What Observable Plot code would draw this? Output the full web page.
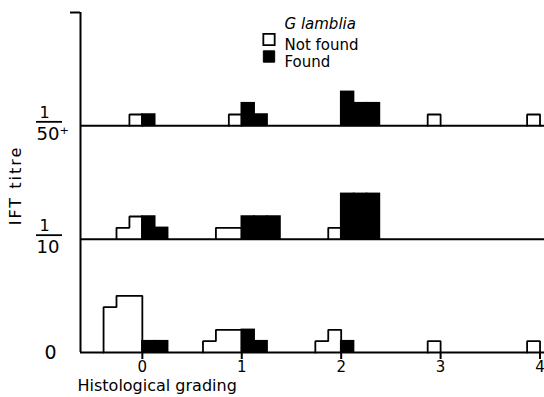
<!DOCTYPE html>
<html><head><meta charset="utf-8">
<script src="https://cdn.jsdelivr.net/npm/d3@7"></script>
<script src="https://cdn.jsdelivr.net/npm/@observablehq/plot@0.6"></script>
<style>body{margin:0;background:#fff} svg{display:block}</style>
</head><body><div id="chart"></div>
<script>
// Histological grading (x) and IFT titre rows (y)
const grades = [0, 1, 2, 3, 4];
const titreLabels = ["0", "1/10", "1/50+"];
const rowBase = [0, 10, 20];
// counts per column, per grade (not found = open, to the left; found = solid, to the right)
const notFound_0  = [[4, 5, 5], [1, 2, 2], [1, 2], [1], [1]];
const found_0     = [[1, 1], [2, 1], [1], [], []];
const notFound_10 = [[1, 2], [1, 1], [1], [], []];
const found_10    = [[2, 1], [2, 2, 2], [4, 4, 4], [], []];
const notFound_50 = [[1], [1], [], [1], [1]];
const found_50    = [[1], [2, 1], [3, 2, 2], [], []];
const legendLabels = ["Not found", "Found"];

const colW = 0.13;
const xMin = -0.622, xMax = 4.045;
const W = 544, H = 397, mL = 80, mT = 12, mB = 45;
const px2x = p => xMin + (p - mL) * (xMax - xMin) / (W - mL);
const px2y = p => (H - mB - p) * 30 / (H - mB - mT);

const rects = [], outline = [];
function addRow(r, nf, f) {
  const base = rowBase[r];
  grades.forEach((g, gi) => {
    const c = nf[gi];
    if (c.length) {
      const id = r + "-" + g;
      const x0 = g - c.length * colW;
      outline.push({id, x: x0, y: base});
      c.forEach((v, i) => {
        outline.push({id, x: x0 + i * colW, y: base + v});
        outline.push({id, x: x0 + (i + 1) * colW, y: base + v});
      });
      outline.push({id, x: g, y: base});
    }
    f[gi].forEach((v, i) => rects.push({x1: g + i * colW, x2: g + (i + 1) * colW, y1: base, y2: base + v}));
  });
}
addRow(0, notFound_0, found_0);
addRow(1, notFound_10, found_10);
addRow(2, notFound_50, found_50);

const fracs = [{y: rowBase[1], num: "1", den: "10"}, {y: rowBase[2], num: "1", den: "50\u207A"}];

const chart = Plot.plot({
  width: W, height: H,
  marginLeft: mL, marginRight: 0, marginTop: mT, marginBottom: mB,
  x: {domain: [xMin, xMax]},
  y: {domain: [0, 30], axis: null},
  style: {fontFamily: "DejaVu Sans", background: "white", color: "black"},
  marks: [
    Plot.ruleY(rowBase, {x1: xMin, x2: xMax, strokeWidth: 2}),
    Plot.ruleX([xMin], {y1: 0, y2: 30, strokeWidth: 2}),
    Plot.ruleY([30], {x1: px2x(70), x2: xMin, strokeWidth: 2}),
    Plot.rect(rects, {x1: "x1", x2: "x2", y1: "y1", y2: "y2", fill: "black", stroke: "black", strokeWidth: 1.5, strokeLinejoin: "miter"}),
    Plot.line(outline, {x: "x", y: "y", z: "id", stroke: "black", strokeWidth: 1.8, strokeLinejoin: "miter"}),
    Plot.axisX({ticks: grades, tickSize: 7, tickPadding: 2, fontSize: 15, label: null, tickFormat: d => String(d), strokeWidth: 2}),
    Plot.text(["Histological grading"], {frameAnchor: "bottom-left", dx: -3, dy: 38, textAnchor: "start", fontSize: 16}),
    // y labels
    Plot.text([titreLabels[0]], {y: rowBase[0], frameAnchor: "left", dx: -30, textAnchor: "middle", fontSize: 19}),
    Plot.text(fracs, {y: "y", text: "num", frameAnchor: "left", dx: -36, dy: -13, textAnchor: "middle", fontSize: 16}),
    Plot.text(fracs, {y: "y", text: "den", frameAnchor: "left", dx: -44, dy: 8, textAnchor: "start", fontSize: 18}),
    Plot.ruleY(fracs, {y: "y", x1: px2x(36), x2: px2x(62), dy: -4, strokeWidth: 1.8}),
    Plot.text(["IFT titre"], {frameAnchor: "left", dx: -65, dy: 3, rotate: -90, fontSize: 16, textAnchor: "middle"}),
    // legend
    Plot.text(["G lamblia"], {frameAnchor: "top-left", dx: 284 - mL, dy: 18 - mT, textAnchor: "start", fontSize: 15, fontStyle: "italic"}),
    Plot.dot([0], {x: () => px2x(268.5), y: () => px2y(39), symbol: "square", r: 6.4, fill: "white", stroke: "black", strokeWidth: 1.8}),
    Plot.dot([0], {x: () => px2x(268.5), y: () => px2y(56), symbol: "square", r: 6.4, fill: "black", stroke: "black", strokeWidth: 1}),
    Plot.text([legendLabels[0]], {frameAnchor: "top-left", dx: 284 - mL, dy: 39 - mT, textAnchor: "start", fontSize: 15}),
    Plot.text([legendLabels[1]], {frameAnchor: "top-left", dx: 284 - mL, dy: 56 - mT, textAnchor: "start", fontSize: 15})
  ]
});
d3.select(chart).selectAll("text").filter(function() { return this.textContent === "IFT titre"; }).attr("letter-spacing", "2px");
document.getElementById("chart").appendChild(chart);
</script>
</body></html>
